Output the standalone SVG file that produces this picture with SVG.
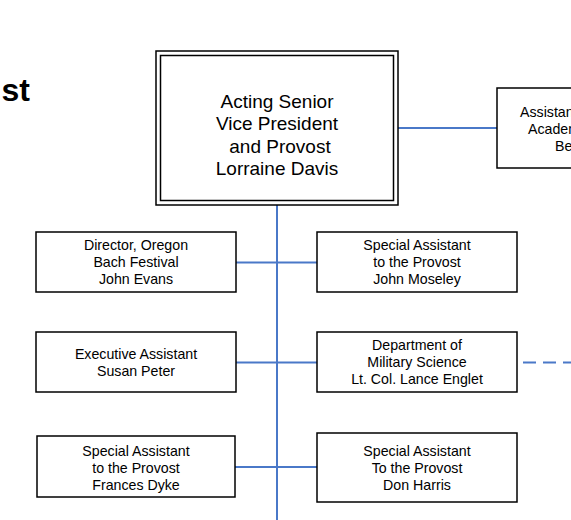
<svg xmlns="http://www.w3.org/2000/svg" width="571" height="520" viewBox="0 0 571 520">
<style>
.box{fill:#fff;stroke:#000;stroke-width:1.5}
.t{font-family:"Liberation Sans",Arial,sans-serif;font-size:14.2px;fill:#000;text-anchor:middle}
.big{font-family:"Liberation Sans",Arial,sans-serif;font-size:19px;fill:#000;text-anchor:middle}
.ln{stroke:#4a78c8;stroke-width:2;fill:none}
</style>
<rect width="571" height="520" fill="#fff"/>
<text x="30" y="101" font-family="Liberation Sans, Arial, sans-serif" font-size="32" font-weight="bold" text-anchor="end">st</text>
<g id="connectors">
<line class="ln" x1="277" y1="205" x2="277" y2="520"/>
<line class="ln" x1="398" y1="128" x2="497" y2="128"/>
<line class="ln" x1="236" y1="262.5" x2="317" y2="262.5"/>
<line class="ln" x1="236" y1="362.5" x2="317" y2="362.5"/>
<line class="ln" x1="235" y1="467" x2="317" y2="467"/>
<line class="ln" x1="523" y1="362.5" x2="571" y2="362.5" stroke-dasharray="13,7"/>
</g>
<g id="provost">
<rect class="box" x="156" y="51" width="242" height="154"/>
<rect class="box" x="160.5" y="55.5" width="233" height="145"/>
<text class="big" x="277" y="108">Acting Senior</text>
<text class="big" x="277" y="130">Vice President</text>
<text class="big" x="280" y="153">and Provost</text>
<text class="big" x="277" y="175">Lorraine Davis</text>
</g>
<g id="asst-vp">
<rect class="box" x="497" y="88" width="120" height="80"/>
<text class="t" x="520" y="117" style="text-anchor:start">Assistant</text>
<text class="t" x="528" y="134" style="text-anchor:start">Academic</text>
<text class="t" x="555" y="151" style="text-anchor:start">Be</text>
</g>
<g id="bach">
<rect class="box" x="36" y="232" width="200" height="60"/>
<text class="t" x="136" y="250">Director, Oregon</text>
<text class="t" x="136" y="267">Bach Festival</text>
<text class="t" x="136" y="284">John Evans</text>
</g>
<g id="moseley">
<rect class="box" x="317" y="232" width="200" height="60"/>
<text class="t" x="417" y="250">Special Assistant</text>
<text class="t" x="417" y="267">to the Provost</text>
<text class="t" x="417" y="284">John Moseley</text>
</g>
<g id="peter">
<rect class="box" x="36" y="332" width="200" height="60"/>
<text class="t" x="136" y="359">Executive Assistant</text>
<text class="t" x="136" y="376">Susan Peter</text>
</g>
<g id="military">
<rect class="box" x="317" y="332" width="200" height="60"/>
<text class="t" x="417" y="350">Department of</text>
<text class="t" x="417" y="367">Military Science</text>
<text class="t" x="417" y="384">Lt. Col. Lance Englet</text>
</g>
<g id="dyke">
<rect class="box" x="37" y="436" width="198" height="61"/>
<text class="t" x="136" y="455.5">Special Assistant</text>
<text class="t" x="136" y="472.5">to the Provost</text>
<text class="t" x="136" y="489.5">Frances Dyke</text>
</g>
<g id="harris">
<rect class="box" x="317" y="433" width="200" height="69"/>
<text class="t" x="417" y="455.5">Special Assistant</text>
<text class="t" x="417" y="472.5">To the Provost</text>
<text class="t" x="417" y="489.5">Don Harris</text>
</g>
</svg>
